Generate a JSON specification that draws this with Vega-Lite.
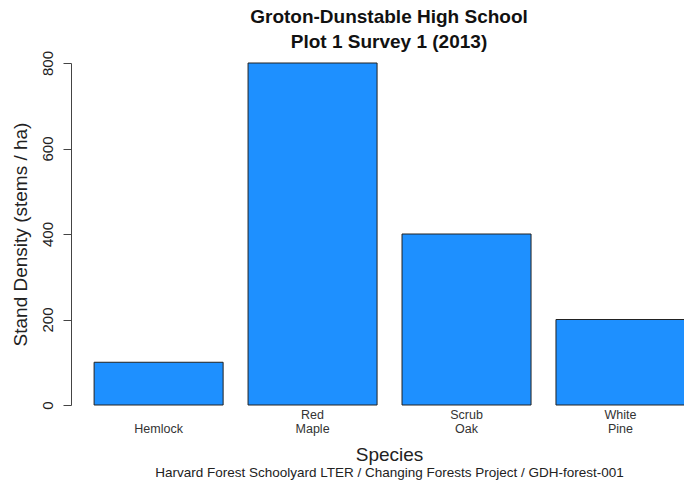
{
  "$schema": "https://vega.github.io/schema/vega-lite/v6.json",
  "width": 614,
  "height": 342,
  "autosize": {"type": "none"},
  "padding": {"left": 71, "top": 63, "right": 0, "bottom": 75},
  "background": "white",
  "title": {
    "text": ["Groton-Dunstable High School", "Plot 1 Survey 1 (2013)"],
    "font": "Liberation Sans",
    "fontSize": 19,
    "fontWeight": "bold",
    "color": "#111111",
    "lineHeight": 25,
    "anchor": "middle",
    "dx": 11,
    "offset": -2
  },
  "config": {"view": {"stroke": null}, "font": "Liberation Sans"},
  "data": {
    "values": [
      {"species": "Hemlock", "density": 100},
      {"species": "Red Maple", "density": 800},
      {"species": "Scrub Oak", "density": 400},
      {"species": "White Pine", "density": 200}
    ]
  },
  "encoding": {
    "y": {
      "field": "density",
      "type": "quantitative",
      "scale": {"domain": [0, 800], "nice": false, "zero": true},
      "axis": {
        "title": "Stand Density (stems / ha)",
        "titleFont": "Liberation Sans",
        "titleFontSize": 19,
        "titleFontWeight": "normal",
        "titleColor": "#222222",
        "titlePadding": 10,
        "values": [0, 200, 400, 600, 800],
        "labelFont": "Liberation Sans",
        "labelFontSize": 15,
        "labelColor": "#222222",
        "labelAngle": 270,
        "labelAlign": "center",
        "labelBaseline": "bottom",
        "labelPadding": 8,
        "labelFlush": false,
        "labelOverlap": false,
        "tickSize": 8,
        "tickColor": "#444444",
        "domainColor": "#444444",
        "grid": false
      }
    }
  },
  "layer": [
    {
      "mark": {"type": "bar", "fill": "#1E90FF", "stroke": "#222222", "strokeWidth": 1},
      "encoding": {
        "x": {
          "field": "species",
          "type": "nominal",
          "sort": null,
          "scale": {"type": "band", "paddingInner": 0.162, "paddingOuter": 0.075, "align": 1},
          "axis": {
            "orient": "bottom",
            "labelExpr": "length(split(datum.label, ' ')) == 1 ? ['', datum.label] : split(datum.label, ' ')",
            "labelAngle": 0,
            "labelFont": "Liberation Sans",
            "labelFontSize": 12.5,
            "labelLineHeight": 14,
            "labelColor": "#333333",
            "labelBaseline": "bottom",
            "labelPadding": 16,
            "ticks": false,
            "domain": false,
            "title": "Species",
            "titleFont": "Liberation Sans",
            "titleFontSize": 19,
            "titleFontWeight": "normal",
            "titleColor": "#222222",
            "titlePadding": 11,
            "titleX": 318
          }
        }
      }
    },
    {
      "mark": {"type": "bar", "opacity": 0},
      "encoding": {
        "x": {
          "field": "species",
          "type": "nominal",
          "sort": null,
          "axis": {
            "orient": "bottom",
            "labels": false,
            "ticks": false,
            "domain": false,
            "title": "Harvard Forest Schoolyard LTER / Changing Forests Project / GDH-forest-001",
            "titleFont": "Liberation Sans",
            "titleFontSize": 13.5,
            "titleFontWeight": "normal",
            "titleColor": "#222222",
            "titlePadding": 60,
            "titleX": 318
          }
        }
      }
    }
  ],
  "resolve": {"axis": {"x": "independent"}}
}
